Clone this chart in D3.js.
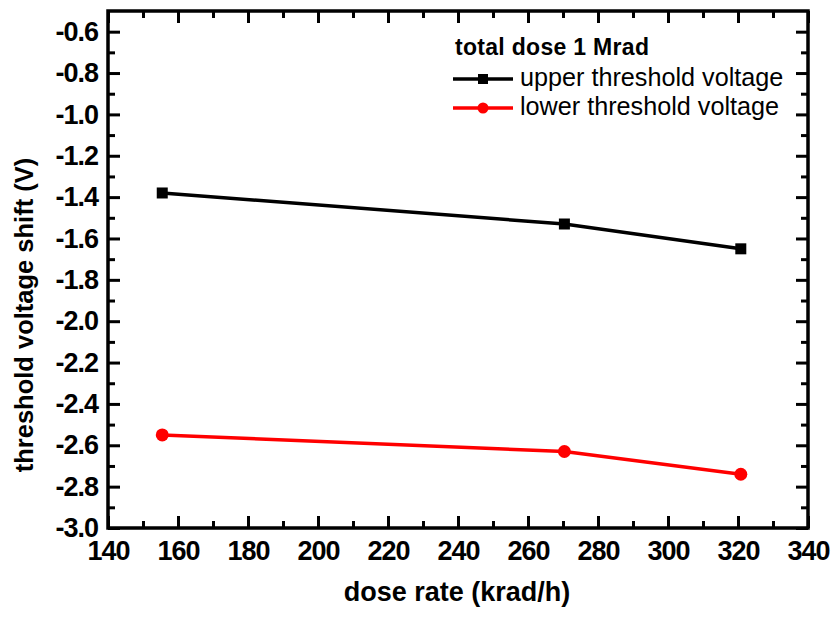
<!DOCTYPE html>
<html>
<head>
<meta charset="utf-8">
<script src="https://cdn.jsdelivr.net/npm/d3@7"></script>
<style>
  body { margin: 0; background: #fff; }
  svg { font-family: "Liberation Sans", Arial, sans-serif; }
</style>
</head>
<body>
<div id="chart"></div>
<script>
// data
var doseRate = [155.5, 270.4, 320.8];
var upperShift = [-1.38, -1.53, -1.65];
var lowerShift = [-2.55, -2.63, -2.74];
var xTicks = [140, 160, 180, 200, 220, 240, 260, 280, 300, 320, 340];
var yTicks = [-3.0, -2.8, -2.6, -2.4, -2.2, -2.0, -1.8, -1.6, -1.4, -1.2, -1.0, -0.8, -0.6];
var seriesNames = ["upper threshold voltage", "lower threshold voltage"];
var legendTitle = "total dose 1 Mrad";

var margin = {top: 11, right: 27, bottom: 89, left: 108},
    width = 835 - margin.left - margin.right,
    height = 617 - margin.top - margin.bottom;

var svg = d3.select("#chart")
  .append("svg")
    .attr("width", 835)
    .attr("height", 617)
  .append("g")
    .attr("transform", "translate(" + margin.left + "," + margin.top + ")");

var x = d3.scaleLinear().domain([140, 340]).range([0, width]);
var y = d3.scaleLinear().domain([-3.0, -0.5]).range([height, 0]);

var xMinor = d3.range(150, 340, 20);
var yMinor = d3.range(-2.9, -0.55, 0.2);

function styleAxis(g) {
  g.select(".domain").remove();
  g.selectAll(".tick line").attr("stroke", "#000").attr("stroke-width", 3);
  g.selectAll("text")
    .attr("fill", "#000")
    .style("font-size", "27px")
    .style("font-weight", "bold")
    .style("letter-spacing", "-1px");
}

// bottom axis
svg.append("g")
  .attr("transform", "translate(0," + height + ")")
  .call(d3.axisBottom(x).tickValues(xTicks).tickSize(-12).tickPadding(13)
        .tickFormat(function(d) { return d; }))
  .call(styleAxis);
svg.append("g")
  .attr("transform", "translate(0," + height + ")")
  .call(d3.axisBottom(x).tickValues(xMinor).tickSize(-7).tickFormat(""))
  .call(styleAxis);

// top axis (mirror)
svg.append("g")
  .call(d3.axisTop(x).tickValues(xTicks).tickSize(-12).tickFormat(""))
  .call(styleAxis);
svg.append("g")
  .call(d3.axisTop(x).tickValues(xMinor).tickSize(-7).tickFormat(""))
  .call(styleAxis);

// left axis
svg.append("g")
  .call(d3.axisLeft(y).tickValues(yTicks).tickSize(-12).tickPadding(10)
        .tickFormat(function(d) { return d.toFixed(1); }))
  .call(styleAxis);
svg.append("g")
  .call(d3.axisLeft(y).tickValues(yMinor).tickSize(-7).tickFormat(""))
  .call(styleAxis);

// right axis (mirror)
svg.append("g")
  .attr("transform", "translate(" + width + ",0)")
  .call(d3.axisRight(y).tickValues(yTicks).tickSize(-12).tickFormat(""))
  .call(styleAxis);
svg.append("g")
  .attr("transform", "translate(" + width + ",0)")
  .call(d3.axisRight(y).tickValues(yMinor).tickSize(-7).tickFormat(""))
  .call(styleAxis);

// frame
svg.append("rect")
  .attr("width", width)
  .attr("height", height)
  .attr("fill", "none")
  .attr("stroke", "#000")
  .attr("stroke-width", 3.5);

// lines
var upperData = doseRate.map(function(d, i) { return {x: d, y: upperShift[i]}; });
var lowerData = doseRate.map(function(d, i) { return {x: d, y: lowerShift[i]}; });

var line = d3.line()
  .x(function(d) { return x(d.x); })
  .y(function(d) { return y(d.y); });

svg.append("path")
  .datum(upperData)
  .attr("fill", "none")
  .attr("stroke", "#000")
  .attr("stroke-width", 3.5)
  .attr("d", line);

svg.append("path")
  .datum(lowerData)
  .attr("fill", "none")
  .attr("stroke", "#ff0000")
  .attr("stroke-width", 3.5)
  .attr("d", line);

svg.append("g")
  .selectAll("rect")
  .data(upperData)
  .enter()
  .append("rect")
    .attr("x", function(d) { return x(d.x) - 5.5; })
    .attr("y", function(d) { return y(d.y) - 5.5; })
    .attr("width", 11)
    .attr("height", 11)
    .attr("fill", "#000");

svg.append("g")
  .selectAll("circle")
  .data(lowerData)
  .enter()
  .append("circle")
    .attr("cx", function(d) { return x(d.x); })
    .attr("cy", function(d) { return y(d.y); })
    .attr("r", 6.5)
    .attr("fill", "#ff0000");

// axis labels
svg.append("text")
  .attr("text-anchor", "middle")
  .attr("x", 457 - margin.left)
  .attr("y", 601 - margin.top)
  .text("dose rate (krad/h)")
  .style("font-size", "27px")
  .style("font-weight", "bold");

svg.append("text")
  .attr("text-anchor", "middle")
  .attr("transform", "translate(" + (33 - margin.left) + "," + (315 - margin.top) + ") rotate(-90)")
  .text("threshold voltage shift (V)")
  .style("font-size", "25.5px")
  .style("font-weight", "bold");

// legend
var legend = svg.append("g")
  .attr("transform", "translate(" + (453 - margin.left) + "," + (55 - margin.top) + ")");

legend.append("text")
  .attr("x", 2)
  .attr("y", 0)
  .text(legendTitle)
  .style("font-size", "23px")
  .style("font-weight", "bold")
  .style("letter-spacing", "0.3px");

legend.append("line")
  .attr("x1", 0).attr("x2", 60)
  .attr("y1", 24).attr("y2", 24)
  .attr("stroke", "#000").attr("stroke-width", 3.5);
legend.append("rect")
  .attr("x", 25).attr("y", 19)
  .attr("width", 10).attr("height", 10)
  .attr("fill", "#000");
legend.append("text")
  .attr("x", 67).attr("y", 31)
  .text(seriesNames[0])
  .style("font-size", "25.2px");

legend.append("line")
  .attr("x1", 0).attr("x2", 60)
  .attr("y1", 53).attr("y2", 53)
  .attr("stroke", "#ff0000").attr("stroke-width", 3.5);
legend.append("circle")
  .attr("cx", 30).attr("cy", 53)
  .attr("r", 5.5)
  .attr("fill", "#ff0000");
legend.append("text")
  .attr("x", 67).attr("y", 60)
  .text(seriesNames[1])
  .style("font-size", "25.2px");
</script>
</body>
</html>
